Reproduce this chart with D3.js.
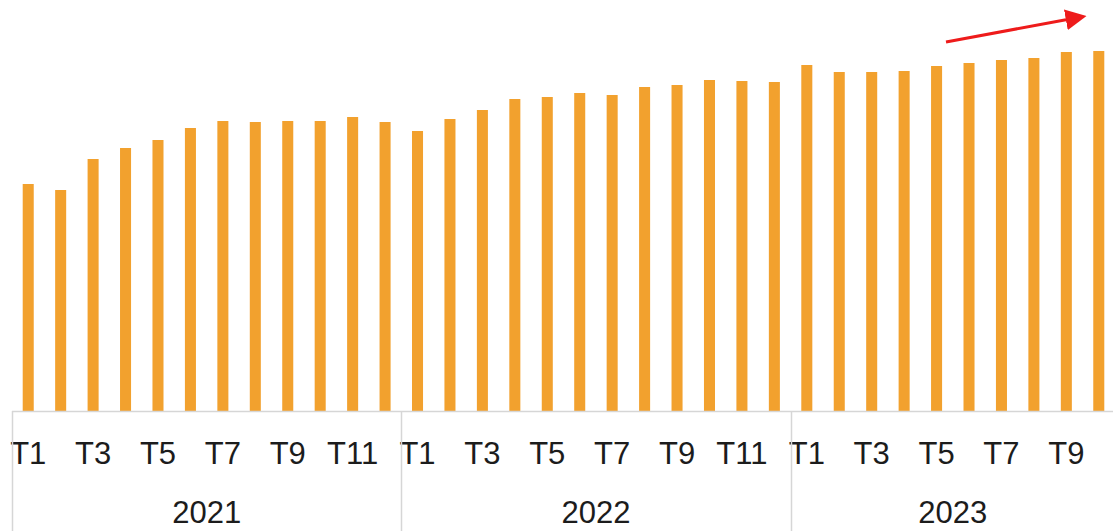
<!DOCTYPE html>
<html lang="en">
<head>
<meta charset="UTF-8">
<title>monthly bars</title>
<script src="https://d3js.org/d3.v7.min.js"></script>
<style>
  body { margin: 0; background: #fff; }
  svg { display: block; }
  .tick text { font-family: "Liberation Sans", Arial, sans-serif; }
</style>
</head>
<body>
<script>
const width = 1113;
const height = 531;

// data
const years = ["2021", "2022", "2023"];
const monthsPerYear = [12, 12, 10];
const values = [
  227, 221, 252, 263, 271, 283, 290, 289, 290, 290, 294, 289,
  280, 292, 301, 312, 314, 318, 316, 324, 326, 331, 330, 329,
  346, 339, 339, 340, 345, 348, 351, 353, 359, 360
];

// build rows: year + month label
const rows = [];
years.forEach((yr, gi) => {
  for (let m = 1; m <= monthsPerYear[gi]; m++) {
    rows.push({ key: yr + "-" + m, year: yr, label: "T" + m, month: m });
  }
});
rows.forEach((d, i) => d.value = values[i]);

const baseY = 411;
const orange = "#f2a12e";

const x = d3.scaleBand()
  .domain(rows.map(d => d.key))
  .range([12, 1115])
  .paddingInner(0.66)
  .paddingOuter(0.33);

const y = d3.scaleLinear()
  .domain([0, 400])
  .range([baseY, baseY - 400]);

const svg = d3.select("body").append("svg")
  .attr("width", width)
  .attr("height", height)
  .attr("viewBox", [0, 0, width, height]);

// bars
svg.append("g")
  .selectAll("rect")
  .data(rows)
  .join("rect")
    .attr("x", d => x(d.key))
    .attr("y", d => y(d.value))
    .attr("width", x.bandwidth())
    .attr("height", d => y(0) - y(d.value))
    .attr("fill", orange);

// month axis
const xAxis = d3.axisBottom(x)
  .tickSize(0)
  .tickPadding(0)
  .tickFormat(k => {
    const r = rows.find(d => d.key === k);
    return r.month % 2 === 1 ? r.label : "";
  });

const axisG = svg.append("g")
  .attr("transform", `translate(0,${baseY})`)
  .call(xAxis);
axisG.select(".domain").remove();
axisG.selectAll(".tick text")
  .attr("y", 53)
  .attr("dy", 0)
  .attr("fill", "#1c1c1c")
  .style("font-size", "31px");

// axis frame lines
const step = x.step();
const half = x.bandwidth() / 2;
svg.append("line")
  .attr("x1", 12).attr("x2", width)
  .attr("y1", baseY + 0.5).attr("y2", baseY + 0.5)
  .attr("stroke", "#d6d6d6").attr("stroke-width", 1.5);

const groups = years.map(yr => {
  const ks = rows.filter(d => d.year === yr).map(d => d.key);
  const x0 = x(ks[0]) + half - step / 2;
  const x1 = x(ks[ks.length - 1]) + half + step / 2;
  return { year: yr, x0, x1 };
});

svg.append("g")
  .selectAll("line")
  .data(groups)
  .join("line")
    .attr("x1", d => Math.round(d.x0) + 0.5)
    .attr("x2", d => Math.round(d.x0) + 0.5)
    .attr("y1", baseY)
    .attr("y2", height)
    .attr("stroke", "#d6d6d6")
    .attr("stroke-width", 1.5);

svg.append("g")
  .selectAll("text")
  .data(groups)
  .join("text")
    .attr("x", d => (d.x0 + d.x1) / 2)
    .attr("y", 523)
    .attr("text-anchor", "middle")
    .attr("fill", "#1c1c1c")
    .style("font-family", "'Liberation Sans', Arial, sans-serif")
    .style("font-size", "31px")
    .text(d => d.year);

// red trend arrow
svg.append("defs").append("marker")
  .attr("id", "head")
  .attr("viewBox", "0 0 10 10")
  .attr("refX", 2)
  .attr("refY", 5)
  .attr("markerWidth", 7)
  .attr("markerHeight", 7)
  .attr("orient", "auto")
  .append("path")
    .attr("d", "M0,0 L10,5 L0,10 Z")
    .attr("fill", "#ee1b1b");

svg.append("line")
  .attr("x1", 946).attr("y1", 42)
  .attr("x2", 1070).attr("y2", 19)
  .attr("stroke", "#ee1b1b")
  .attr("stroke-width", 3)
  .attr("marker-end", "url(#head)");
</script>
</body>
</html>
